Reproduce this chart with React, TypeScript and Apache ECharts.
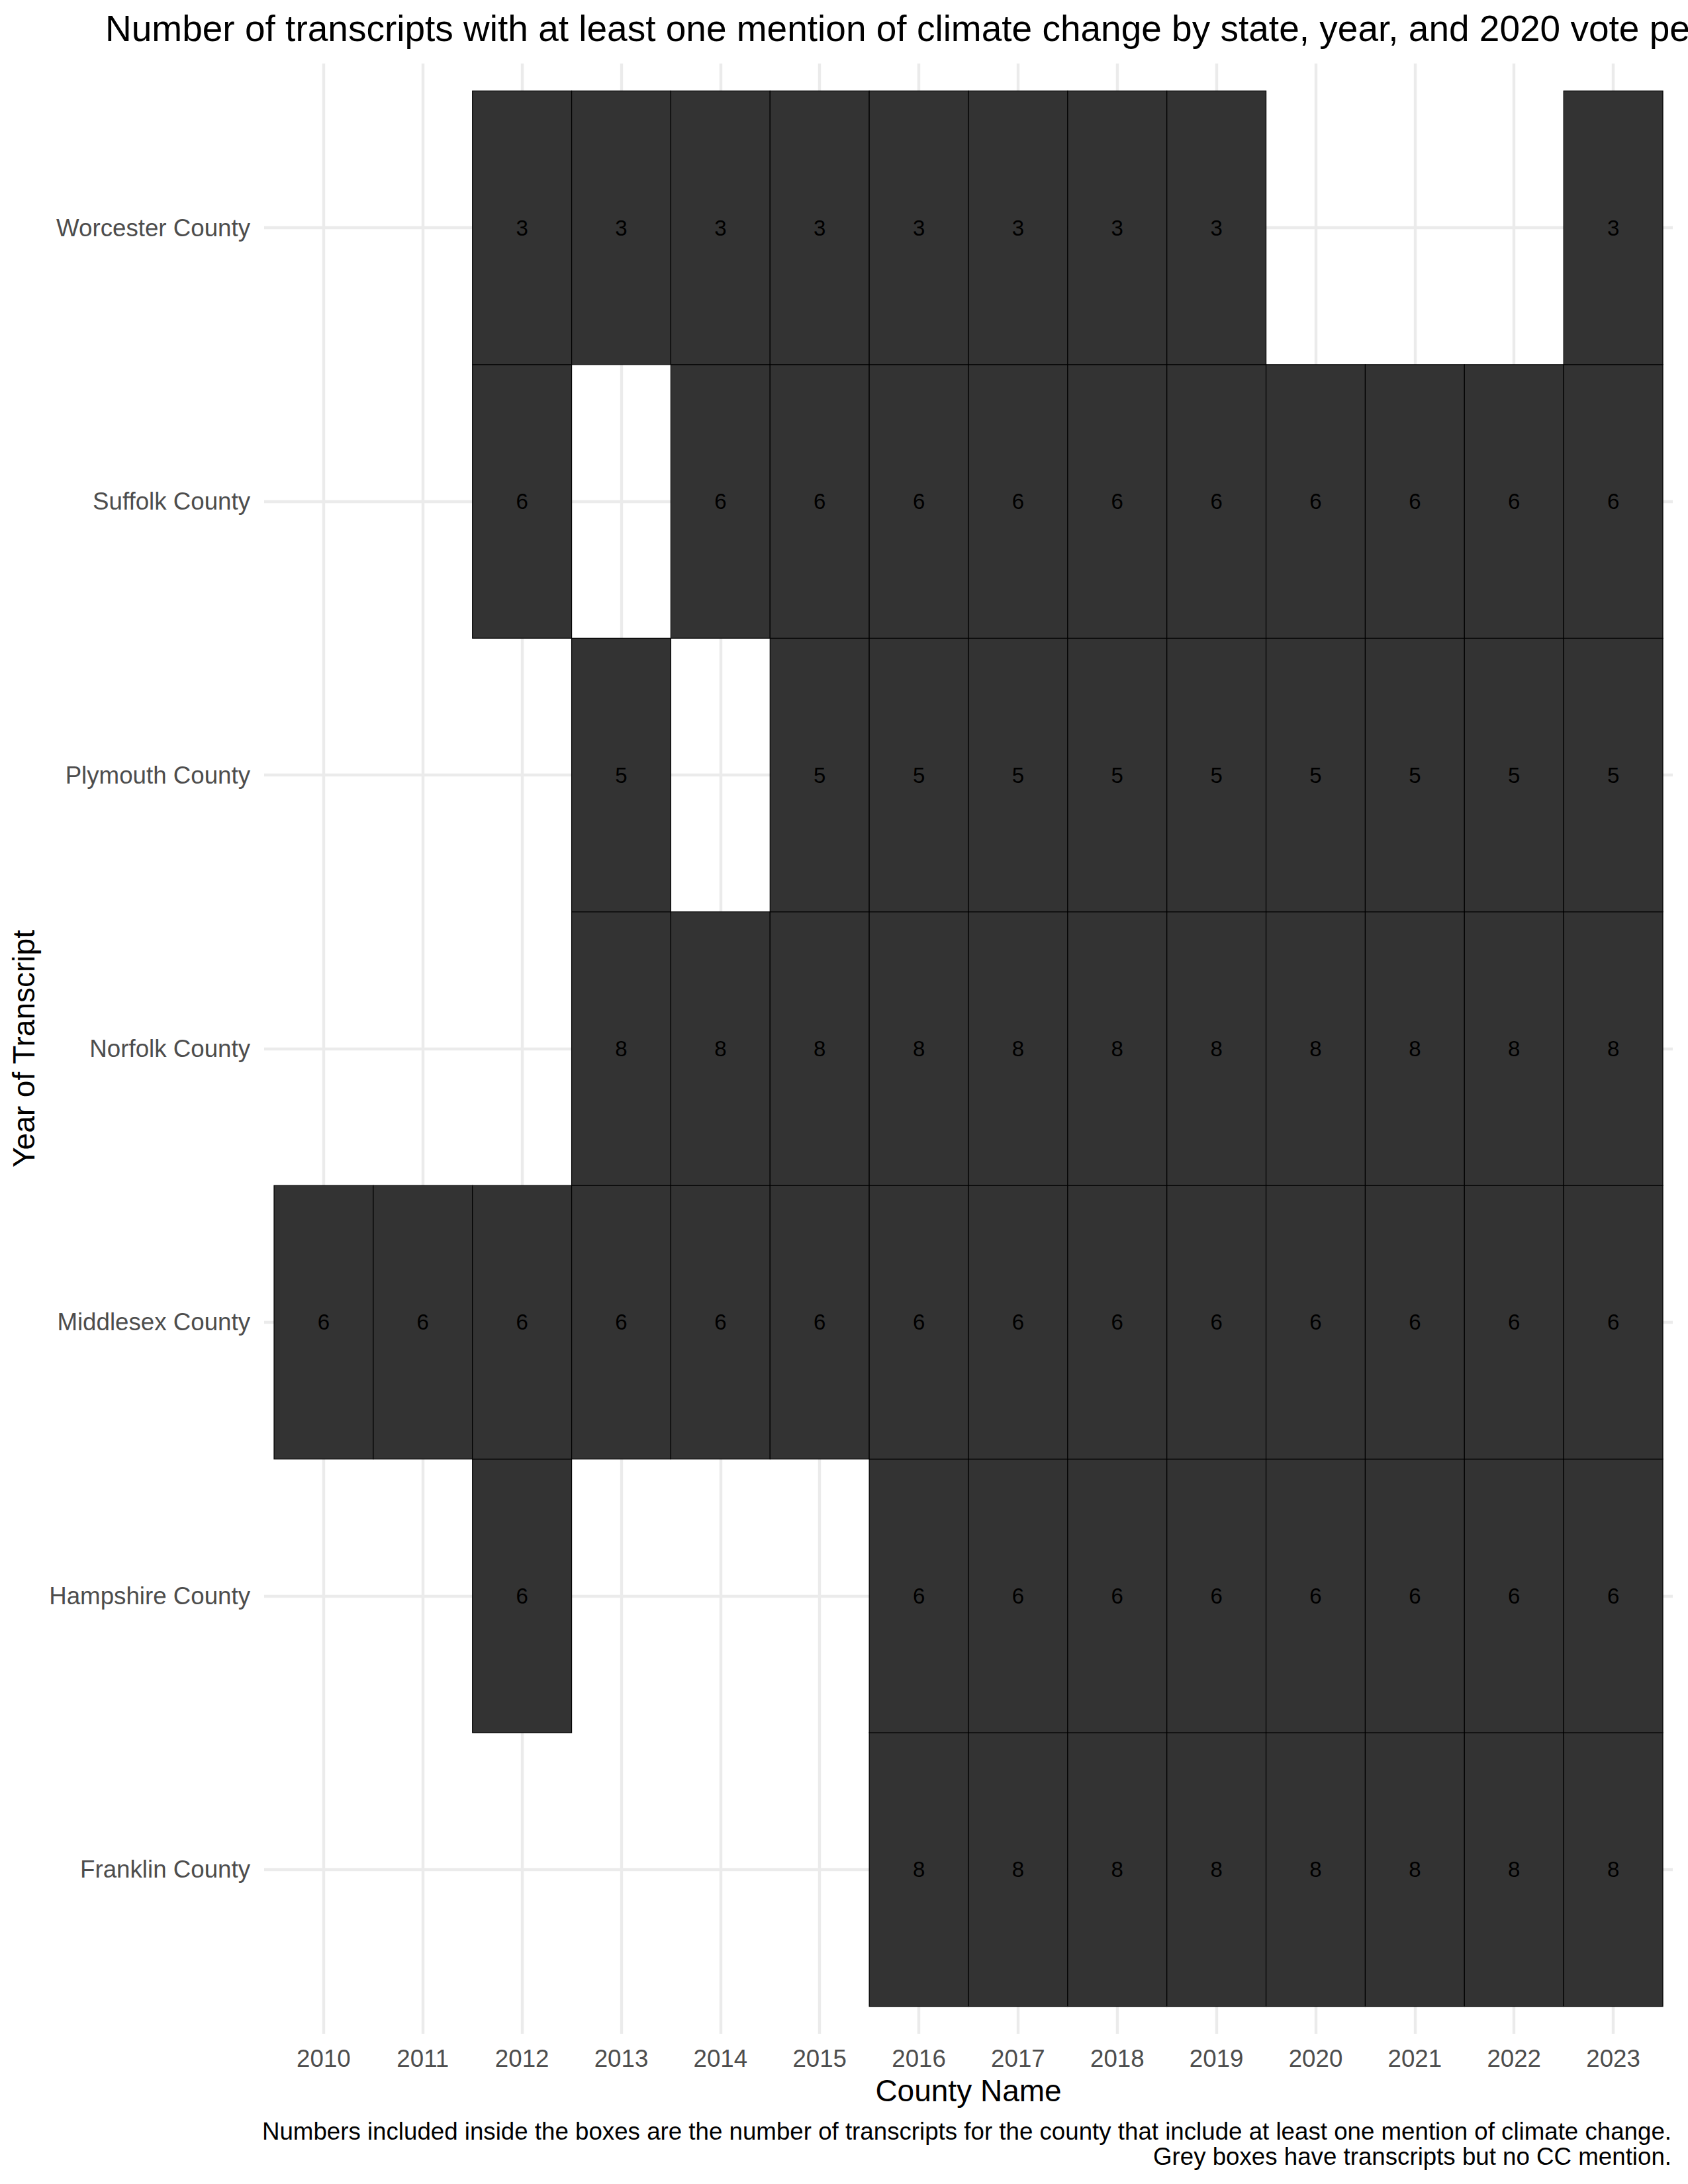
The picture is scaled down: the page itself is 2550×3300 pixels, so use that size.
import React, { useEffect, useRef } from "react";
import * as echarts from "echarts";

const years = [2010, 2011, 2012, 2013, 2014, 2015, 2016, 2017, 2018, 2019, 2020, 2021, 2022, 2023];
const counties = [
  "Franklin County",
  "Hampshire County",
  "Middlesex County",
  "Norfolk County",
  "Plymouth County",
  "Suffolk County",
  "Worcester County",
];
const franklin = [null, null, null, null, null, null, 8, 8, 8, 8, 8, 8, 8, 8];
const hampshire = [null, null, 6, null, null, null, 6, 6, 6, 6, 6, 6, 6, 6];
const middlesex = [6, 6, 6, 6, 6, 6, 6, 6, 6, 6, 6, 6, 6, 6];
const norfolk = [null, null, null, 8, 8, 8, 8, 8, 8, 8, 8, 8, 8, 8];
const plymouth = [null, null, null, 5, null, 5, 5, 5, 5, 5, 5, 5, 5, 5];
const suffolk = [null, null, 6, null, 6, 6, 6, 6, 6, 6, 6, 6, 6, 6];
const worcester = [null, null, 3, 3, 3, 3, 3, 3, 3, 3, null, null, null, 3];
const countyValues = [franklin, hampshire, middlesex, norfolk, plymouth, suffolk, worcester];

const titleText =
  "Number of transcripts with at least one mention of climate change by state, year, and 2020 vote percentage";
const captionLine1 =
  "Numbers included inside the boxes are the number of transcripts for the county that include at least one mention of climate change.";
const captionLine2 = "Grey boxes have transcripts but no CC mention.";

const FONT = "'Liberation Sans', Arial, Helvetica, sans-serif";

export default function App() {
  const ref = useRef<HTMLDivElement>(null);
  useEffect(() => {
    if (!ref.current) return;
    const chart = echarts.init(ref.current, undefined, { renderer: "svg" });
    const data: any[] = [];
    countyValues.forEach((arr, ci) => {
      arr.forEach((v, yi) => {
        if (v !== null) data.push([years[yi], ci, v]);
      });
    });
    const gridLeft = 399;
    const gridRight = 23;
    const gridTop = 96;
    const gridBottom = 227;
    const panelCenterX = (gridLeft + (2550 - gridRight)) / 2;
    chart.setOption({
      animation: false,
      backgroundColor: "#ffffff",
      textStyle: { fontFamily: FONT },
      grid: { left: gridLeft, right: gridRight, top: gridTop, bottom: gridBottom, containLabel: false },
      xAxis: {
        type: "value",
        min: years[0] - 0.6,
        max: years[years.length - 1] + 0.6,
        axisLine: { show: false },
        axisTick: { show: false, customValues: years },
        axisLabel: {
          customValues: years,
          fontSize: 36.7,
          color: "#4D4D4D",
          fontFamily: FONT,
          margin: 19,
          formatter: (v: number) => String(v),
        },
        splitLine: { show: true, lineStyle: { color: "#EBEBEB", width: 4.4 } },
        name: "County Name",
        nameLocation: "middle",
        nameGap: 63,
        nameTextStyle: { fontSize: 46, color: "#000000", fontFamily: FONT },
      },
      yAxis: {
        type: "value",
        min: -0.6,
        max: counties.length - 1 + 0.6,
        axisLine: { show: false },
        axisTick: { show: false, customValues: counties.map((_, i) => i) },
        axisLabel: {
          customValues: counties.map((_, i) => i),
          fontSize: 36.7,
          color: "#4D4D4D",
          fontFamily: FONT,
          margin: 21,
          formatter: (v: number) => counties[Math.round(v)] ?? "",
        },
        splitLine: { show: true, lineStyle: { color: "#EBEBEB", width: 4.4 } },
        name: "Year of Transcript",
        nameLocation: "middle",
        nameGap: 340,
        nameRotate: 90,
        nameTextStyle: { fontSize: 46, color: "#000000", fontFamily: FONT },
      },
      series: [
        {
          type: "custom",
          data,
          renderItem: (params: any, api: any) => {
            const x = api.value(0);
            const y = api.value(1);
            const v = api.value(2);
            const p1 = api.coord([x - 0.5, y + 0.5]);
            const p2 = api.coord([x + 0.5, y - 0.5]);
            return {
              type: "group",
              children: [
                {
                  type: "rect",
                  shape: { x: p1[0], y: p1[1], width: p2[0] - p1[0], height: p2[1] - p1[1] },
                  style: { fill: "#333333", stroke: "#000000", lineWidth: 1.2 },
                },
                {
                  type: "text",
                  x: (p1[0] + p2[0]) / 2,
                  y: (p1[1] + p2[1]) / 2,
                  style: {
                    text: String(v),
                    fill: "#000000",
                    fontSize: 33,
                    fontFamily: FONT,
                    align: "center",
                    verticalAlign: "middle",
                  },
                },
              ],
            };
          },
        },
      ],
      graphic: [
        {
          type: "text",
          x: panelCenterX,
          y: 43,
          style: {
            text: titleText,
            fill: "#000000",
            fontSize: 55,
            fontFamily: FONT,
            align: "center",
            verticalAlign: "middle",
          },
        },
        {
          type: "text",
          x: 2525,
          y: 3220,
          style: {
            text: captionLine1,
            fill: "#000000",
            fontSize: 36.7,
            fontFamily: FONT,
            align: "right",
            verticalAlign: "middle",
          },
        },
        {
          type: "text",
          x: 2525,
          y: 3258,
          style: {
            text: captionLine2,
            fill: "#000000",
            fontSize: 36.7,
            fontFamily: FONT,
            align: "right",
            verticalAlign: "middle",
          },
        },
      ],
    });
    return () => chart.dispose();
  }, []);
  return (
    <div
      ref={ref}
      style={{ position: "absolute", left: 0, top: 0, width: 2550, height: 3300, background: "#fff" }}
    />
  );
}
